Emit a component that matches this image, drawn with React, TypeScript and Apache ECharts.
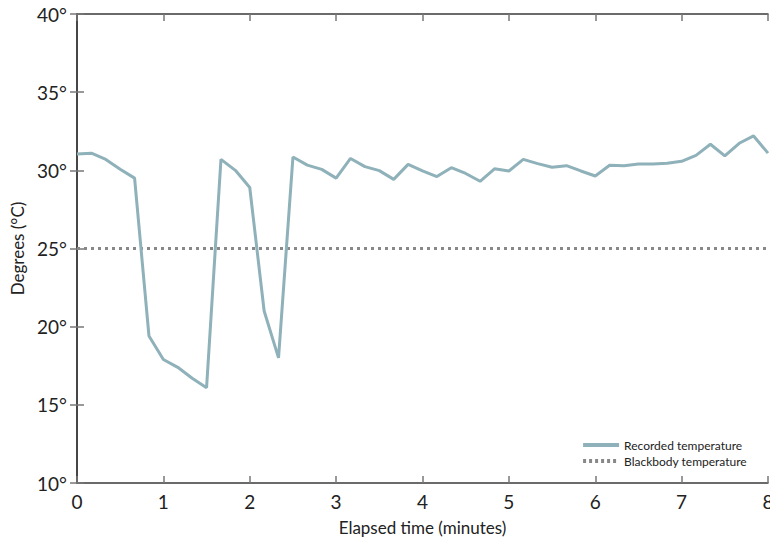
import React, { useEffect, useRef } from "react";
import * as echarts from "echarts";

const SAMPLE_MINUTES = 1 / 6;
const recorded = [
  31.04, 31.1, 30.7, 30.07, 29.5, 19.4, 17.9, 17.4, 16.7, 16.1,
  30.7, 30.0, 28.9, 21.0, 18.0, 30.85, 30.33, 30.06, 29.5, 30.76,
  30.24, 29.98, 29.42, 30.38, 29.96, 29.6, 30.17, 29.8, 29.3, 30.1,
  29.96, 30.7, 30.43, 30.2, 30.3, 29.96, 29.64, 30.32, 30.3, 30.4,
  30.4, 30.45, 30.58, 30.96, 31.67, 30.92, 31.73, 32.2, 31.1,
];
const blackbodyTemp = 25;
const xRange = [0, 8];
const yRange = [10, 40];
const seriesNames = ["Recorded temperature", "Blackbody temperature"];

const FONT = "Lato, 'DejaVu Sans', sans-serif";
const REC_COLOR = "#8fb1b9";
const BB_COLOR = "#888888";

export default function App() {
  const ref = useRef<HTMLDivElement>(null);
  useEffect(() => {
    const chart = echarts.init(ref.current!, null, { renderer: "svg" });
    const recData = recorded.map((v, i) => [i * SAMPLE_MINUTES, v]);
    const bbData = [
      [xRange[0], blackbodyTemp],
      [xRange[1], blackbodyTemp],
    ];
    const boxLine = { show: true, lineStyle: { color: "#3a3a3a", width: 1.5 } };
    const tick = { show: true, inside: true, length: 7, lineStyle: { color: "#777", width: 1.5 } };
    chart.setOption({
      animation: false,
      textStyle: { fontFamily: FONT },
      grid: { left: 77, right: 2, top: 14, bottom: 61, containLabel: false, outerBoundsMode: "none" },
      legend: {
        right: 18,
        bottom: 72,
        orient: "vertical",
        itemWidth: 36,
        itemHeight: 10,
        itemGap: 4,
        itemStyle: { opacity: 0 },
        textStyle: { fontSize: 12, color: "#222", fontFamily: FONT },
        data: [
          { name: seriesNames[0], lineStyle: { width: 4, color: REC_COLOR } },
          { name: seriesNames[1], lineStyle: { width: 4, color: BB_COLOR, type: [3, 3] } },
        ],
      },
      xAxis: [
        {
          type: "value",
          min: xRange[0],
          max: xRange[1],
          interval: 1,
          name: "Elapsed time (minutes)",
          nameLocation: "middle",
          nameGap: 36,
          nameTextStyle: { fontSize: 17, color: "#222", fontFamily: FONT },
          axisLine: boxLine,
          axisTick: tick,
          axisLabel: { fontSize: 19, color: "#222", margin: 9, fontFamily: FONT },
          splitLine: { show: false },
        },
        {
          type: "value",
          position: "top",
          min: xRange[0],
          max: xRange[1],
          interval: 1,
          axisLine: boxLine,
          axisTick: tick,
          axisLabel: { show: false },
          splitLine: { show: false },
        },
      ],
      yAxis: [
        {
          type: "value",
          min: yRange[0],
          max: yRange[1],
          interval: 5,
          name: "Degrees (°C)",
          nameLocation: "middle",
          nameGap: 50,
          nameTextStyle: { fontSize: 17, color: "#222", fontFamily: FONT },
          axisLine: boxLine,
          axisTick: tick,
          axisLabel: {
            fontSize: 19,
            color: "#222",
            margin: 10,
            fontFamily: FONT,
            formatter: (v: number) => `${v}°`,
          },
          splitLine: { show: false },
        },
        {
          type: "value",
          position: "right",
          min: yRange[0],
          max: yRange[1],
          interval: 5,
          axisLine: boxLine,
          axisTick: tick,
          axisLabel: { show: false },
          splitLine: { show: false },
        },
      ],
      series: [
        {
          name: seriesNames[0],
          type: "line",
          data: recData,
          symbol: "none",
          clip: false,
          lineStyle: { color: REC_COLOR, width: 3 },
          itemStyle: { color: REC_COLOR },
          z: 3,
        },
        {
          name: seriesNames[1],
          type: "line",
          data: bbData,
          symbol: "none",
          lineStyle: { color: BB_COLOR, width: 3, type: [3, 4] },
          itemStyle: { color: BB_COLOR },
          z: 2,
        },
      ],
    });
    return () => chart.dispose();
  }, []);
  return <div ref={ref} style={{ width: 770, height: 544, position: "absolute", left: 0, top: 0 }} />;
}
